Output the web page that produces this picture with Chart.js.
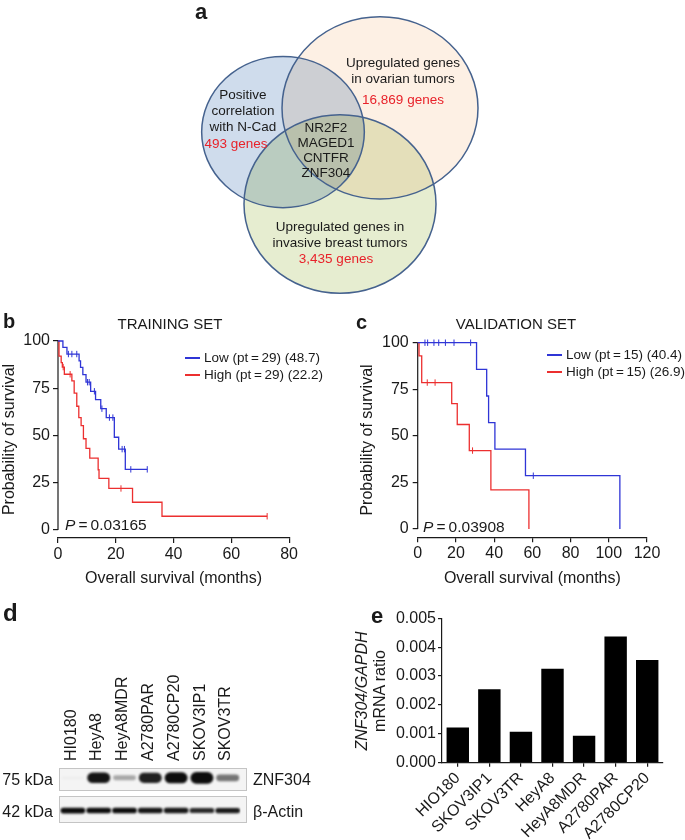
<!DOCTYPE html>
<html>
<head>
<meta charset="utf-8">
<title>ZNF304 figure</title>
<script src="https://cdn.jsdelivr.net/npm/chart.js@4.4.1/dist/chart.umd.min.js"></script>
<style>
  body { margin: 0; background: #fff; }
  #page { position: relative; width: 685px; height: 840px; overflow: hidden;
          font-family: "Liberation Sans", Arial, Helvetica, sans-serif; color: #1a1a1a; }
  #page canvas { position: absolute; }
  .t { position: absolute; white-space: nowrap; line-height: 1; transform: translate(-50%, -50%); }
  .letter { position: absolute; font-weight: bold; line-height: 1; }
  .strip { position: absolute; box-sizing: border-box; border: 1px solid #c4c4c4; background: #f4f4f4; }
</style>
</head>
<body>
<div id="page">
  <canvas id="venn" width="320" height="310" style="left:180px;top:0"></canvas>
  <canvas id="kmTrain" width="300" height="280" style="left:0;top:318px"></canvas>
  <canvas id="kmValid" width="345" height="280" style="left:340px;top:318px"></canvas>
  <div class="strip" style="left:59px;top:768px;width:188px;height:23px"></div>
  <div class="strip" style="left:59px;top:796px;width:188px;height:27px"></div>
  <canvas id="blot" width="260" height="162" style="left:0;top:660px"></canvas>
  <canvas id="qpcr" width="345" height="250" style="left:340px;top:590px"></canvas>
</div>
<script>
// ---- panel a: Venn diagram
const vennSetLines = [['Positive', 'correlation', 'with N-Cad'],
                      ['Upregulated genes', 'in ovarian tumors'],
                      ['Upregulated genes in', 'invasive breast tumors']];
const vennCounts = ['493 genes', '16,869 genes', '3,435 genes'];
const vennShared = ['NR2F2', 'MAGED1', 'CNTFR', 'ZNF304'];

// ---- panel b: training set (months, % surviving)
const trainLowTime = [0, 1.7, 3.1, 7.3, 7.8, 8.6, 9.7, 11.3, 13.0, 14.8, 16.7, 19.5, 21.0, 23.3, 30.9];
const trainLowSurv = [100, 96.6, 93.1, 89.5, 86.0, 82.2, 78.2, 73.4, 69.0, 64.2, 59.5, 49.1, 42.8, 32.1, 32.1];
const trainLowCensor = [3.6, 4.8, 6.5, 10.2, 10.8, 12.6, 15.2, 17.8, 19.0, 22.2, 23.0, 25.2, 30.9];
const trainHighTime = [0, 0.35, 1.1, 1.5, 2.2, 4.8, 5.6, 6.5, 7.2, 8.0, 8.8, 9.7, 11.0, 13.9, 14.2, 17.6, 25.8, 36.0, 72.4];
const trainHighSurv = [100, 92.0, 88.6, 86.2, 82.4, 78.9, 72.4, 65.5, 59.5, 55.2, 48.3, 43.2, 38.0, 31.9, 27.3, 22.0, 14.7, 7.3, 7.3];
const trainHighCensor = [1.8, 4.2, 21.8, 72.4];
const trainLegend = ['Low (pt\u2009=\u200929) (48.7)', 'High (pt\u2009=\u200929) (22.2)'];
const trainP = '0.03165';
const trainXTicks = [0, 20, 40, 60, 80];

// ---- panel c: validation set
const validLowTime = [0, 30.8, 36.1, 37.1, 40.4, 56.4, 105.8];
const validLowSurv = [100, 85.7, 71.4, 57.1, 42.9, 28.6, 0];
const validLowCensor = [3.8, 5.2, 8.5, 11.0, 14.5, 19.0, 27.7, 60.5];
const validHighTime = [0, 0.7, 2.1, 17.8, 20.7, 27.0, 38.3, 58.2];
const validHighSurv = [100, 92.9, 78.6, 67.3, 56.1, 42.1, 21.0, 0];
const validHighCensor = [5.0, 9.1, 28.7];
const validLegend = ['Low (pt\u2009=\u200915) (40.4)', 'High (pt\u2009=\u200915) (26.9)'];
const validP = '0.03908';
const validXTicks = [0, 20, 40, 60, 80, 100, 120];

const kmYTicks = [0, 25, 50, 75, 100];

// ---- panel d: western blot (relative band intensity)
const blotLanes = ['HI0180', 'HeyA8', 'HeyA8MDR', 'A2780PAR', 'A2780CP20', 'SKOV3IP1', 'SKOV3TR'];
const znf304Band = [0.03, 0.88, 0.3, 0.84, 0.92, 1.0, 0.5];
const actinBand = [0.95, 0.92, 0.93, 0.87, 0.86, 0.8, 0.85];

// ---- panel e: qPCR
const qpcrLines = ['HIO180', 'SKOV3IP1', 'SKOV3TR', 'HeyA8', 'HeyA8MDR', 'A2780PAR', 'A2780CP20'];
const qpcrRatio = [0.00122, 0.00254, 0.00107, 0.00325, 0.00093, 0.00437, 0.00356];
const qpcrYTicks = [0, 0.001, 0.002, 0.003, 0.004, 0.005];

// layout of the (non proportional) Venn circles, in the Venn chart's axis units
const vennGeometry = [
    { x: 60.0, y: 34.8, r: 29.4, fill: '#fdf0e4' },
    { x: 30.9, y: 42.6, r: 24.4, fill: '#cfdcec' },
    { x: 48.0, y: 65.8, r: 28.8, fill: '#e6edd0' }
];

const BLUE = '#2f35d6';
const RED = '#ec2f2f';
const INK = '#1a1a1a';

Chart.defaults.font.family = '"Liberation Sans", Arial, Helvetica, sans-serif';
Chart.defaults.color = INK;

const page = document.getElementById('page');

function addText(html, x, y, style) {
    const d = document.createElement('div');
    d.className = 't';
    d.innerHTML = html;
    d.style.left = x + 'px';
    d.style.top = y + 'px';
    Object.assign(d.style, style || {});
    page.appendChild(d);
    return d;
}

function addLetter(ch, x, y, size) {
    const d = document.createElement('div');
    d.className = 'letter';
    d.textContent = ch;
    d.style.left = x + 'px';
    d.style.top = y + 'px';
    d.style.fontSize = size + 'px';
    page.appendChild(d);
}

/**
 * Venn: draws each set as an ellipse through the chart's x/y scales.
 */
const vennPlugin = {
    id: 'vennPlugin',
    beforeDatasetsDraw(chart) {
        const { ctx, scales: { x, y } } = chart;
        const shapes = chart.data.datasets.map(ds => {
            const c = ds.data[0];
            return {
                cx: x.getPixelForValue(c.x),
                cy: y.getPixelForValue(c.y),
                rx: Math.abs(x.getPixelForValue(c.x + c.r) - x.getPixelForValue(c.x)),
                ry: Math.abs(y.getPixelForValue(c.y + c.r) - y.getPixelForValue(c.y)),
                fill: ds.backgroundColor
            };
        });
        ctx.save();
        ctx.globalCompositeOperation = 'multiply';
        shapes.forEach(s => {
            ctx.beginPath();
            ctx.ellipse(s.cx, s.cy, s.rx, s.ry, 0, 0, Math.PI * 2);
            ctx.fillStyle = s.fill;
            ctx.fill();
        });
        ctx.globalCompositeOperation = 'source-over';
        ctx.strokeStyle = '#45628e';
        ctx.lineWidth = 1.5;
        shapes.forEach(s => {
            ctx.beginPath();
            ctx.ellipse(s.cx, s.cy, s.rx, s.ry, 0, 0, Math.PI * 2);
            ctx.stroke();
        });
        ctx.restore();
    }
};

new Chart(document.getElementById('venn'), {
    type: 'scatter',
    data: {
        datasets: vennGeometry.map((g, i) => ({
            label: vennCounts[i],
            data: [{ x: g.x, y: g.y, r: g.r }],
            backgroundColor: g.fill,
            pointRadius: 0
        }))
    },
    options: {
        responsive: false,
        animation: false,
        devicePixelRatio: 1,
        layout: { padding: 0 },
        plugins: { legend: { display: false }, tooltip: { enabled: false } },
        scales: {
            x: { display: false, min: 0, max: 96 },
            y: { display: false, min: 0, max: 100, reverse: true }
        }
    },
    plugins: [vennPlugin]
});

// Venn labels
const vennTextPos = [{ x: 243, y: 95 }, { x: 403, y: 63 }, { x: 340, y: 227 }];
const vennCountPos = [{ x: 236, y: 144 }, { x: 403, y: 100 }, { x: 336, y: 259 }];
vennSetLines.forEach((lines, i) => {
    lines.forEach((ln, j) => addText(ln, vennTextPos[i].x, vennTextPos[i].y + j * 16, { fontSize: '13.5px' }));
    addText(vennCounts[i], vennCountPos[i].x, vennCountPos[i].y, { fontSize: '13.5px', color: '#e8222a' });
});
vennShared.forEach((g, j) => addText(g, 326, 128 + j * 15, { fontSize: '13.5px' }));

// ---- Kaplan-Meier helpers
function kmPoints(times, surv) {
    return times.map((t, i) => ({ x: t, y: surv[i] }));
}

function censorPoints(times, curveT, curveS) {
    return times.map(t => {
        let s = curveS[0];
        curveT.forEach((ct, i) => { if (ct <= t) s = curveS[i]; });
        return { x: t, y: s };
    });
}

// y axis drawn only from 0 to 100, separate from the x axis
const kmAxisLine = {
    id: 'kmAxisLine',
    beforeDatasetsDraw(chart) {
        const { ctx, scales: { x, y } } = chart;
        ctx.save();
        ctx.strokeStyle = INK;
        ctx.lineWidth = 1.2;
        ctx.beginPath();
        ctx.moveTo(x.left, y.getPixelForValue(0));
        ctx.lineTo(x.left, y.getPixelForValue(100));
        ctx.stroke();
        ctx.restore();
    }
};

function kmChart(id, cfg) {
    const step = { stepped: true, pointRadius: 0, borderWidth: 1.3, fill: false, clip: false };
    const tick = { showLine: false, pointStyle: 'line', rotation: 90, pointRadius: 3.2, pointBorderWidth: 1, clip: false };
    return new Chart(document.getElementById(id), {
        type: 'line',
        data: {
            datasets: [
                Object.assign({ label: cfg.legend[0], data: kmPoints(cfg.lowT, cfg.lowS), borderColor: BLUE }, step),
                Object.assign({ label: cfg.legend[1], data: kmPoints(cfg.highT, cfg.highS), borderColor: RED }, step),
                Object.assign({ data: censorPoints(cfg.lowC, cfg.lowT, cfg.lowS), borderColor: BLUE, pointBorderColor: BLUE }, tick),
                Object.assign({ data: censorPoints(cfg.highC, cfg.highT, cfg.highS), borderColor: RED, pointBorderColor: RED }, tick)
            ]
        },
        options: {
            responsive: false,
            animation: false,
            devicePixelRatio: 1,
            layout: { padding: { top: cfg.padTop, right: cfg.padRight, left: 0, bottom: 0 } },
            plugins: { legend: { display: false }, tooltip: { enabled: false } },
            scales: {
                x: {
                    type: 'linear', min: 0, max: cfg.xTicks[cfg.xTicks.length - 1],
                    afterBuildTicks: s => { s.ticks = cfg.xTicks.map(v => ({ value: v })); },
                    afterFit: s => { s.height = cfg.xAxisH; },
                    grid: { drawOnChartArea: false, tickLength: 5, color: INK, lineWidth: 1.2 },
                    border: { color: INK, width: 1.2 },
                    ticks: { font: { size: 16 }, color: INK, padding: 2, maxRotation: 0 },
                    title: { display: true, text: 'Overall survival (months)', font: { size: 16 }, color: INK,
                             padding: { top: 0, bottom: 10 } }
                },
                y: {
                    min: cfg.yMin, max: 100,
                    afterBuildTicks: s => { s.ticks = kmYTicks.map(v => ({ value: v })); },
                    afterFit: s => { s.width = cfg.yAxisW; },
                    grid: { drawOnChartArea: false, tickLength: 5, color: INK, lineWidth: 1.2 },
                    border: { display: false },
                    ticks: { font: { size: 16 }, color: INK, padding: cfg.yTickPad },
                    title: { display: true, text: 'Probability of survival', font: { size: 16 }, color: INK,
                             padding: { top: cfg.yTitlePad, bottom: 0 } }
                }
            }
        },
        plugins: [kmAxisLine]
    });
}

kmChart('kmTrain', {
    lowT: trainLowTime, lowS: trainLowSurv, lowC: trainLowCensor,
    highT: trainHighTime, highS: trainHighSurv, highC: trainHighCensor,
    legend: trainLegend, xTicks: trainXTicks,
    yMin: -4.2, padTop: 23, padRight: 8, yAxisW: 58, xAxisH: 60, yTickPad: 3, yTitlePad: 0
});

kmChart('kmValid', {
    lowT: validLowTime, lowS: validLowSurv, lowC: validLowCensor,
    highT: validHighTime, highS: validHighSurv, highC: validHighCensor,
    legend: validLegend, xTicks: validXTicks,
    yMin: -4.45, padTop: 24.7, padRight: 38, yAxisW: 77.7, xAxisH: 60.7, yTickPad: 4, yTitlePad: 18
});

function kmLegend(x, y, labels) {
    [BLUE, RED].forEach((col, i) => {
        const ln = document.createElement('div');
        ln.style.cssText = 'position:absolute;height:1.3px;width:15px;background:' + col +
            ';left:' + x + 'px;top:' + (y + i * 17 - 0.6) + 'px';
        page.appendChild(ln);
        addText(labels[i], x + 19, y + i * 17, { fontSize: '13.5px', transform: 'translate(0,-50%)' });
    });
}
kmLegend(185, 358, trainLegend);
kmLegend(547, 355, validLegend);

addText('<i>P</i>\u2009=\u2009' + trainP, 65, 525, { fontSize: '15.5px', transform: 'translate(0,-50%)' });
addText('<i>P</i>\u2009=\u2009' + validP, 423, 527, { fontSize: '15.5px', transform: 'translate(0,-50%)' });
addText('TRAINING SET', 170, 323, { fontSize: '15px' });
addText('VALIDATION SET', 516, 323, { fontSize: '15px' });

// ---- panel d: blot, bands as floating bars on the lane axis
function bandRange(row, v, base, gain) {
    const h = base + gain * v;
    return [row - h / 2, row + h / 2];
}
function bandShade(v) {
    return 'rgba(12,12,12,' + Math.min(1, v * 1.1).toFixed(2) + ')';
}

const blurPlugin = {
    id: 'blurPlugin',
    beforeDatasetsDraw(chart) { chart.ctx.save(); chart.ctx.filter = 'blur(1px)'; },
    afterDatasetsDraw(chart) { chart.ctx.restore(); }
};

new Chart(document.getElementById('blot'), {
    type: 'bar',
    data: {
        labels: blotLanes,
        datasets: [
            {
                label: 'ZNF304',
                data: znf304Band.map(v => bandRange(1, v, 0.06, 0.3)),
                backgroundColor: znf304Band.map(bandShade),
                barPercentage: 0.89, categoryPercentage: 1, grouped: false,
                borderRadius: 6, borderSkipped: false
            },
            {
                label: 'β-Actin',
                data: actinBand.map(v => bandRange(0, v, 0.06, 0.12)),
                backgroundColor: actinBand.map(bandShade),
                barPercentage: 0.96, categoryPercentage: 1, grouped: false,
                borderRadius: 4, borderSkipped: false
            }
        ]
    },
    options: {
        responsive: false,
        animation: false,
        devicePixelRatio: 1,
        layout: { padding: { left: 60, right: 19.4, top: 0, bottom: 0 } },
        plugins: { legend: { display: false }, tooltip: { enabled: false } },
        scales: {
            x: {
                position: 'top',
                afterFit: s => { s.height = 108; },
                grid: { display: false, drawTicks: false },
                border: { display: false },
                // rotated top labels are shifted off the lane by Chart.js; pull them back over it
                ticks: { minRotation: 90, maxRotation: 90, autoSkip: false, padding: 7, labelOffset: 17.5,
                         font: { size: 16 }, color: INK }
            },
            y: { display: false, min: -0.35, max: 1.3 }
        }
    },
    plugins: [blurPlugin]
});

addText('75 kDa', 53, 780, { fontSize: '16px', transform: 'translate(-100%,-50%)' });
addText('42 kDa', 53, 811.5, { fontSize: '16px', transform: 'translate(-100%,-50%)' });
addText('ZNF304', 253, 780, { fontSize: '16px', transform: 'translate(0,-50%)' });
addText('β-Actin', 253, 811.5, { fontSize: '16px', transform: 'translate(0,-50%)' });

// ---- panel e: bar chart
new Chart(document.getElementById('qpcr'), {
    type: 'bar',
    data: {
        labels: qpcrLines,
        datasets: [{
            label: 'ZNF304/GAPDH',
            data: qpcrRatio,
            backgroundColor: '#000',
            barPercentage: 0.71,
            categoryPercentage: 1
        }]
    },
    options: {
        responsive: false,
        animation: false,
        devicePixelRatio: 1,
        layout: { padding: { top: 28.3, right: 22, left: 0, bottom: 0 } },
        plugins: { legend: { display: false }, tooltip: { enabled: false } },
        scales: {
            x: {
                afterFit: s => { s.height = 77.3; },
                grid: { drawOnChartArea: false, offset: false, tickLength: 4, color: INK, lineWidth: 1.2 },
                border: { color: INK, width: 1.2 },
                ticks: { minRotation: 45, maxRotation: 45, autoSkip: false, padding: 2, font: { size: 16 }, color: INK }
            },
            y: {
                min: 0, max: 0.005,
                afterBuildTicks: s => { s.ticks = qpcrYTicks.map(v => ({ value: v })); },
                afterFit: s => { s.width = 102; },
                grid: { drawOnChartArea: false, tickLength: 4, color: INK, lineWidth: 1.2 },
                border: { color: INK, width: 1.2 },
                ticks: { font: { size: 16 }, color: INK, padding: 2, callback: v => v.toFixed(3) }
            }
        }
    }
});

addText('<i>ZNF304/GAPDH</i><br>mRNA ratio', 370, 691,
        { fontSize: '16px', lineHeight: '17.5px', textAlign: 'center', transform: 'translate(-50%,-50%) rotate(-90deg)' });

// panel letters
addLetter('a', 195, 1, 22);
addLetter('b', 3, 311, 20);
addLetter('c', 356, 312, 20);
addLetter('d', 3, 601, 24);
addLetter('e', 371, 605, 22);
</script>
</body>
</html>
